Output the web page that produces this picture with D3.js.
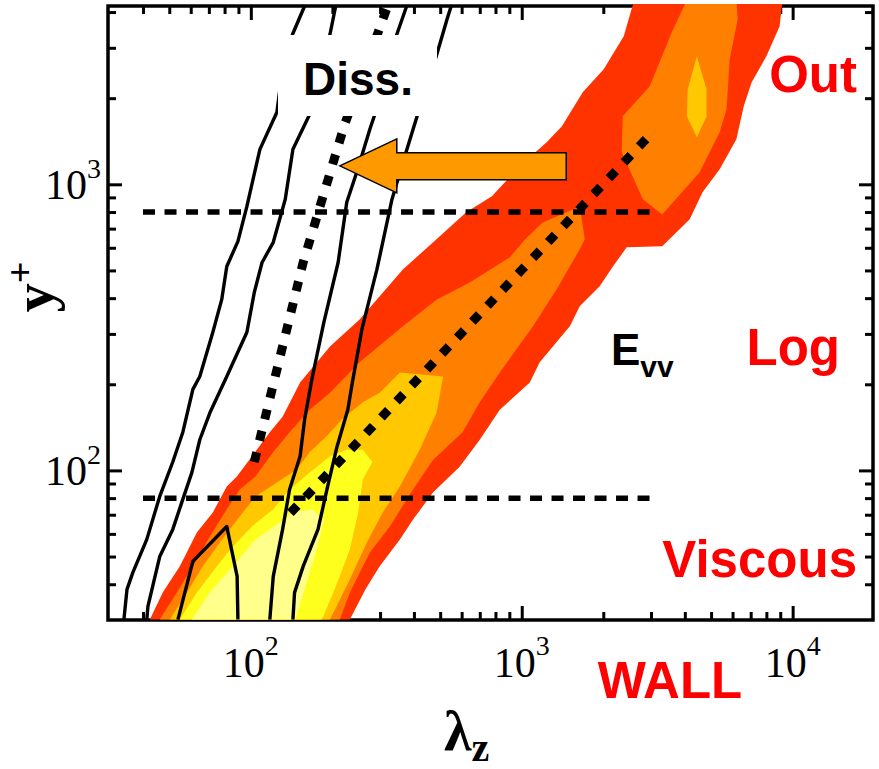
<!DOCTYPE html>
<html>
<head>
<meta charset="utf-8">
<script src="https://cdn.jsdelivr.net/npm/d3@7"></script>
<style>
  body { margin: 0; background: #fff; }
</style>
</head>
<body>
<div id="chart"></div>
<script>
// axis ranges and ticks (lambda_z, y+)
const xDomain = [29.7, 19800];
const yDomain = [30, 4200];
const xMajor = [1e2, 1e3, 1e4];
const xMinor = [40, 50, 60, 70, 80, 90, 200, 300, 400, 500, 600, 700, 800, 900,
                2000, 3000, 4000, 5000, 6000, 7000, 8000, 9000];
const yMajor = [1e2, 1e3];
const yMinor = [40, 50, 60, 70, 80, 90, 200, 300, 400, 500, 600, 700, 800, 900,
                2000, 3000, 4000];

// filled contours of E_vv, [lambda_z, y+]
const evvRed = [[42.4,30.1],[47.3,37.4],[54.7,46.2],[63.2,60.7],[72.4,71.3],[81.5,87.9],[88.8,95.3],
  [101,112],[117.5,136],[131,154],[152,203],[196,271],[252,337],[364,504],[471,627],[624,798],
  [776,908],[983,1156],[1236,1403],[1407,1595],[1680,2097],[2007,2523],[2380,3292],[2600,4400],
  [9180,4400],[8953,3566],[8000,2803],[7060,2273],[6600,1874],[6200,1436],[5378,1128],[4650,938],
  [4170,755],[3300,607],[2440,602],[2170,516],[1940,440],[1637,375],[1505,319],[1165,239],
  [1071,203],[830,163],[700,128],[590,103],[471,83.8],[397,67.4],[355,57.4],[299,46.2],
  [265,38.4],[232,30.1]];
const evvOrange = [[46.1,30.1],[53.3,37.4],[61.1,46.2],[70.6,58.8],[81.5,73.1],[91.1,85.8],[104,95.3],
  [121,116],[139,136],[165,163],[196,187],[252,239],[364,319],[486,396],[643,454],[904,556],
  [1030,642],[1195,736],[1637,837],[1710,642],[1637,593],[1345,429],[1100,319],[830,220],
  [700,173],[605,136],[471,109],[397,85.8],[326,63.7],[275,51.7],[232,37.4],[213,30.1]];
const evvOrangeOuter = [[4070,4400],[3580,3400],[2968,2200],[2360,1729],[2340,1294],[2800,887],
  [3300,785],[4537,1102],[5378,1520],[5700,1829],[5857,2735],[6270,3773],[6200,4400]];
const evvGold = [[50.2,30.1],[58.1,37.4],[66.5,46.2],[76.8,56.0],[91.1,69.1],[104,81.1],[124.8,90.8],
  [148,101],[165,116],[191,132],[217,151],[259,173],[299,187],[355,220],[513,213],[485,159],
  [420,118],[355,87.9],[307,71.3],[268,56.0],[232,41.6],[196,30.1]];
const evvGoldOuter = [[4430,2803],[4810,2149],[4810,1729],[4430,1460],[4070,1729],[4100,2149]];
const evvYellow = [[54.7,30.1],[63.2,37.4],[74.9,46.2],[85.8,54.2],[101,63.7],[121,73.1],[139,85.8],
  [165,98.4],[196,112],[226,118],[259,118],[281,107],[259,93.0],[249,71.3],[232,52.9],
  [204,38.4],[183,30.1]];
const evvLight = [[60.6,30.1],[70.6,37.4],[85.8,46.2],[104,57.4],[128,65.8],[143,71.3],[169,73.1],
  [186,67.4],[175,52.9],[158,38.4],[146,30.1]];

// dissipation contour lines
const dissLines = [
  [[34.0,30.1],[34.9,38.4],[36.7,44.0],[41.3,57.4],[46.1,81.1],[51.5,107],[56.1,136],[61.1,192],
   [64.8,213],[72.4,304],[78.1,396],[81.5,516],[89.6,632],[96.7,837],[108,1325],[124.8,1785],
   [128,2149],[131.3,2425],[142.6,3346],[158.4,4226]],
  [[41.3,30.1],[41.7,33.5],[46.1,50.0],[51.5,62.2],[55.6,77.3],[60.6,98.4],[64.8,128],[70.6,159],
   [81.5,213],[96.7,304],[103,419],[110,533],[121,627],[134,887],[143,1325],[165,1757],
   [196,3346],[206,4226]],
  [[117.5,30.1],[121,42.6],[131,62.2],[139,85.8],[152,112],[158,151],[168,208],[186,329],
   [210,533],[226,865],[246,1102],[275,1557],[287,1757],[346,3346],[377,4226]],
  [[143,30.1],[145,37.4],[156,46.2],[177,62.2],[191,85.8],[208,121],[228,163],[237,203],
   [257,311],[292,504],[332,887],[374,1294],[413,1757],[474,2628],[530,3773],[550,4226]],
  [[53.8,30.1],[61.1,48.1],[81.5,63.7],[89.0,42.6],[89.6,30.1]]
];

// layer limits and ridge lines
const layerY = [80, 800];
const layerX = [40, 3000];
const dissRidge = [[103,107],[156,533],[222,1620],[320,4200]];
const evvRidge = [[140,71],[3000,1500]];
const arrowFrom = [1460, 1160];
const arrowTo = [213, 1160];

const W = 879, H = 769;
const margin = {top: 6, right: 6, bottom: 149, left: 108};
const serif = "'Liberation Serif', 'Times New Roman', serif";
const sans = "'Liberation Sans', Arial, sans-serif";

const svg = d3.select("#chart").append("svg")
  .attr("width", W).attr("height", H);

const x = d3.scaleLog().domain(xDomain).range([margin.left, W - margin.right]);
const y = d3.scaleLog().domain(yDomain).range([H - margin.bottom, margin.top]);
const y0 = H - margin.bottom, x1 = W - margin.right;

// frame and ticks (inward on all four sides)
function ticks(axisFn, scale, vals, size, tr) {
  svg.append("g").attr("transform", tr)
    .call(axisFn(scale).tickValues(vals).tickSize(size).tickFormat(""))
    .call(g => g.select(".domain").remove())
    .selectAll("line").attr("stroke", "#000").attr("stroke-width", 3);
}
ticks(d3.axisBottom, x, xMajor, -14, `translate(0,${y0})`);
ticks(d3.axisBottom, x, xMinor, -8, `translate(0,${y0})`);
ticks(d3.axisTop, x, xMajor, -14, `translate(0,${margin.top})`);
ticks(d3.axisTop, x, xMinor, -8, `translate(0,${margin.top})`);
ticks(d3.axisLeft, y, yMajor, -14, `translate(${margin.left},0)`);
ticks(d3.axisLeft, y, yMinor, -8, `translate(${margin.left},0)`);
ticks(d3.axisRight, y, yMajor, -14, `translate(${x1},0)`);
ticks(d3.axisRight, y, yMinor, -8, `translate(${x1},0)`);

svg.append("rect")
  .attr("x", margin.left).attr("y", margin.top)
  .attr("width", x1 - margin.left).attr("height", y0 - margin.top)
  .attr("fill", "none").attr("stroke", "#000").attr("stroke-width", 3.5);

// tick labels 10^n
xMajor.forEach(v => {
  const t = svg.append("text").attr("x", x(v)).attr("y", 677)
    .attr("text-anchor", "middle").style("font-family", serif).style("font-size", "42px");
  t.append("tspan").text("10");
  t.append("tspan").attr("dy", -22).style("font-size", "28px").text(Math.round(Math.log10(v)));
});
yMajor.forEach(v => {
  const t = svg.append("text").attr("x", 101).attr("y", y(v) + 15)
    .attr("text-anchor", "end").style("font-family", serif).style("font-size", "42px");
  t.append("tspan").text("10");
  t.append("tspan").attr("dy", -21).style("font-size", "28px").text(Math.round(Math.log10(v)));
});

// axis titles
const xt = svg.append("text").attr("x", 444).attr("y", 750)
  .style("font-family", serif).style("font-weight", "bold").style("font-size", "56px");
xt.append("tspan").text("λ");
xt.append("tspan").attr("dy", 11).style("font-size", "40px").text("z");

const yt = svg.append("text").attr("transform", "translate(53,287) rotate(-90)")
  .attr("text-anchor", "middle")
  .style("font-family", serif).style("font-weight", "bold").style("font-size", "58px");
yt.append("tspan").text("y");
yt.append("tspan").attr("dy", -20).style("font-size", "38px").text("+");

// plot content, clipped to the frame
svg.append("clipPath").attr("id", "clip").append("rect")
  .attr("x", margin.left).attr("y", margin.top - 2)
  .attr("width", x1 - margin.left).attr("height", y0 - margin.top + 2);
const plot = svg.append("g").attr("clip-path", "url(#clip)");

const line = d3.line().x(d => x(d[0])).y(d => y(d[1]));

const fills = [
  [evvRed, "#FF3300"], [evvOrange, "#FF7F00"], [evvOrangeOuter, "#FF7F00"],
  [evvGold, "#FFC800"], [evvGoldOuter, "#FFC800"], [evvYellow, "#FFFF1E"], [evvLight, "#FFFF8C"]
];
fills.forEach(([pts, c]) => {
  plot.append("path").attr("d", line(pts) + "Z").attr("fill", c);
});

dissLines.forEach(pts => {
  plot.append("path").attr("d", line(pts))
    .attr("fill", "none").attr("stroke", "#000").attr("stroke-width", 3.4)
    .attr("stroke-linejoin", "round");
});

layerY.forEach(v => {
  plot.append("line")
    .attr("x1", x(layerX[0])).attr("x2", x(layerX[1]))
    .attr("y1", y(v)).attr("y2", y(v))
    .attr("stroke", "#000").attr("stroke-width", 5.5).attr("stroke-dasharray", "12,9.5");
});

[dissRidge, evvRidge].forEach(pts => {
  plot.append("path").attr("d", line(pts))
    .attr("fill", "none").attr("stroke", "#000").attr("stroke-width", 9)
    .attr("stroke-dasharray", "10,12");
});

// white box behind the "Diss." label
svg.append("rect").attr("x", 278).attr("y", 35).attr("width", 159).attr("height", 81).attr("fill", "#fff");
svg.append("text").attr("x", 303).attr("y", 95)
  .style("font-family", sans).style("font-weight", "bold").style("font-size", "46px").text("Diss.");

// arrow from the E_vv ridge to the dissipation ridge
const tx = x(arrowTo[0]), bx = x(arrowFrom[0]), ay = y(arrowTo[1]);
const arrowPts = [[tx, ay], [tx + 57, ay - 27], [tx + 57, ay - 13], [bx, ay - 13],
                  [bx, ay + 14], [tx + 57, ay + 14], [tx + 57, ay + 27]];
svg.append("polygon").attr("points", arrowPts.map(p => p.join(",")).join(" "))
  .attr("fill", "#FF9900").attr("stroke", "#000").attr("stroke-width", 1.5);

// E_vv label
const ev = svg.append("text").attr("x", 611).attr("y", 365)
  .style("font-family", sans).style("font-weight", "bold").style("font-size", "44px");
ev.append("tspan").text("E");
ev.append("tspan").attr("dy", 12).style("font-size", "30px").text("vv");

// region labels
const red = [["Out", 857, 92, "end"], ["Log", 840, 365, "end"],
             ["Viscous", 857, 577, "end"], ["WALL", 670, 698, "middle"]];
red.forEach(([s, px, py, a]) => {
  svg.append("text").attr("x", px).attr("y", py).attr("text-anchor", a)
    .style("font-family", sans).style("font-weight", "bold").style("font-size", "51px")
    .attr("fill", "#FF0000").text(s);
});
</script>
</body>
</html>
